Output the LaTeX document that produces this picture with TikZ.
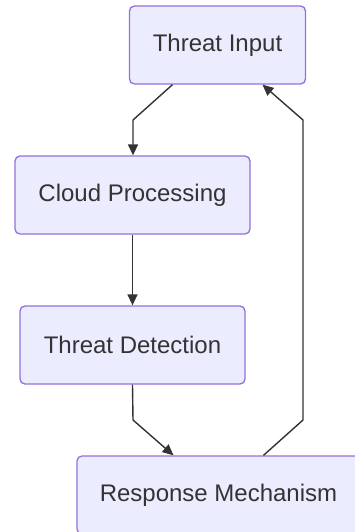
\documentclass[tikz,border=0pt]{standalone}
\usepackage{fontspec}
\setmainfont{Liberation Sans}
\usetikzlibrary{arrows.meta,calc}
\definecolor{boxfill}{HTML}{ECECFF}
\definecolor{boxline}{HTML}{9370DB}
\definecolor{ink}{HTML}{333333}
\tikzset{
  stepbox/.style={draw=boxline, fill=boxfill, line width=1.3pt, rounded corners=5pt,
    minimum height=78pt, inner sep=0pt, text=ink, font=\fontsize{24}{28}\selectfont},
  edge/.style={draw=ink, line width=1.4pt, -{Triangle[length=11pt,width=10pt]}}
}
\begin{document}
\begin{tikzpicture}[x=1pt, y=-1pt]
\useasboundingbox (0,0) rectangle (354,532);
		%Kaesten
		\node[stepbox, minimum width=176pt] (ti) at (217.5,45) {Threat Input};
		\node[stepbox, minimum width=235pt] (cp) at (132.5,195) {Cloud Processing};
		\node[stepbox, minimum width=225pt] (td) at (132.5,345) {Threat Detection};
		\node[stepbox, minimum width=283pt] (rm) at (218.5,495) {Response Mechanism};
		
		%Knickpunkte
		\coordinate (k1) at (133,120);
		\coordinate (k2) at (133,420);
		\coordinate (k3) at (303,420);
		\coordinate (k4) at (303,120);
		
		%Pfeile
		\draw[edge] ([xshift=-45pt]ti.south) -- (k1) -- (k1 |- cp.north);
		\draw[edge] (cp.south) -- (td.north);
		\draw[edge] (td.south) -- (k2) -- ([xshift=-45pt]rm.north);
		\draw[edge] ([xshift=45pt]rm.north) -- (k3) -- (k4) -- ([xshift=45pt]ti.south);
		
\end{tikzpicture}
\end{document}
